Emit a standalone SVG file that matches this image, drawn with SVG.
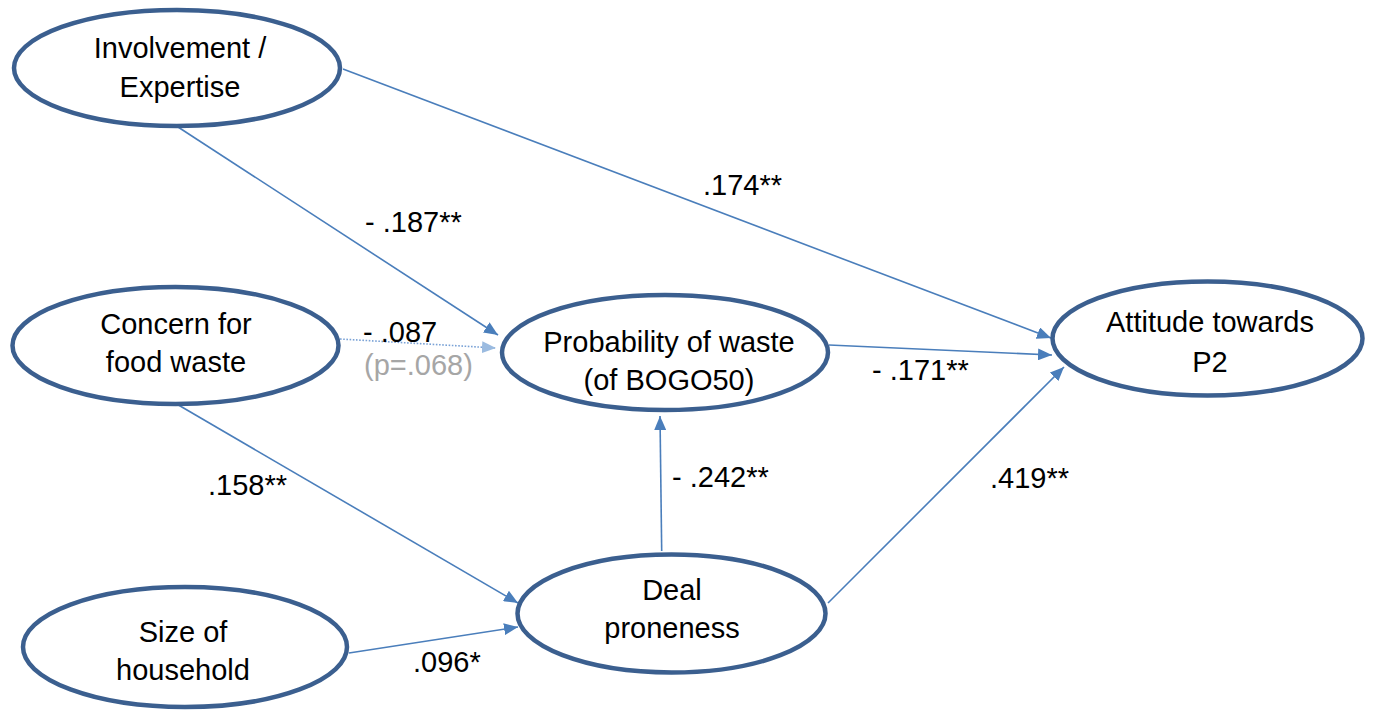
<svg xmlns="http://www.w3.org/2000/svg" width="1375" height="713" viewBox="0 0 1375 713">
<style>
.node ellipse{fill:#ffffff;stroke:#3b5f8f;stroke-width:4.5}
.node text{font-family:"Liberation Sans",Arial,sans-serif;font-size:29px;fill:#000;text-anchor:middle}
.lbl{font-family:"Liberation Sans",Arial,sans-serif;font-size:29px;fill:#000}
.edge{stroke:#4a7ebb;stroke-width:1.6;fill:none}
.dot{stroke:#7aa2d6;stroke-width:1.6;fill:none;stroke-dasharray:1.6 1.6}
</style>
<defs>
<marker id="arr" viewBox="0 0 14 12" refX="14" refY="6" markerWidth="14" markerHeight="12" orient="auto" markerUnits="userSpaceOnUse"><path d="M0,0 L14,6 L0,12 z" fill="#4a7ebb"/></marker>
<marker id="arrL" viewBox="0 0 14 12" refX="14" refY="6" markerWidth="14" markerHeight="12" orient="auto" markerUnits="userSpaceOnUse"><path d="M0,0 L14,6 L0,12 z" fill="#9bbbe0"/></marker>
</defs>
<rect width="1375" height="713" fill="#ffffff"/>
<g id="connectors">
<line class="edge" x1="343" y1="69" x2="1051" y2="338" marker-end="url(#arr)"/>
<line class="edge" x1="178" y1="127" x2="498" y2="335" marker-end="url(#arr)"/>
<line class="dot" x1="340" y1="339" x2="496" y2="348" marker-end="url(#arrL)"/>
<line class="edge" x1="175" y1="403" x2="518" y2="603" marker-end="url(#arr)"/>
<line class="edge" x1="349" y1="653" x2="518" y2="627" marker-end="url(#arr)"/>
<line class="edge" x1="661.7" y1="551" x2="660" y2="416" marker-end="url(#arr)"/>
<line class="edge" x1="829" y1="345" x2="1052" y2="355" marker-end="url(#arr)"/>
<line class="edge" x1="828" y1="603" x2="1064" y2="367" marker-end="url(#arr)"/>
</g>
<g id="labels">
<text class="lbl" x="703" y="195">.174**</text>
<text class="lbl" x="365" y="232">- .187**</text>
<text class="lbl" x="363" y="342">- .087</text>
<text class="lbl" x="364" y="375" fill="#a6a6a6" style="fill:#a6a6a6">(p=.068)</text>
<text class="lbl" x="872" y="380">- .171**</text>
<text class="lbl" x="672" y="487">- .242**</text>
<text class="lbl" x="990" y="488">.419**</text>
<text class="lbl" x="208" y="495">.158**</text>
<text class="lbl" x="413" y="672">.096*</text>
</g>
<g id="involvement" class="node">
<ellipse cx="177" cy="68" rx="163" ry="58"/>
<text x="180" y="58">Involvement /</text>
<text x="180" y="97">Expertise</text>
</g>
<g id="concern" class="node">
<ellipse cx="175.5" cy="345.5" rx="163" ry="58.5"/>
<text x="176" y="334">Concern for</text>
<text x="176" y="372">food waste</text>
</g>
<g id="size" class="node">
<ellipse cx="185" cy="647" rx="162" ry="60"/>
<text x="183" y="642">Size of</text>
<text x="183" y="680">household</text>
</g>
<g id="probability" class="node">
<ellipse cx="665" cy="352.5" rx="163" ry="57.5"/>
<text x="669" y="352">Probability of waste</text>
<text x="669" y="390">(of BOGO50)</text>
</g>
<g id="deal" class="node">
<ellipse cx="671.5" cy="613.5" rx="154" ry="59"/>
<text x="672" y="600">Deal</text>
<text x="672" y="638">proneness</text>
</g>
<g id="attitude" class="node">
<ellipse cx="1207.5" cy="338.5" rx="155" ry="57"/>
<text x="1210" y="332">Attitude towards</text>
<text x="1210" y="372">P2</text>
</g>
</svg>
